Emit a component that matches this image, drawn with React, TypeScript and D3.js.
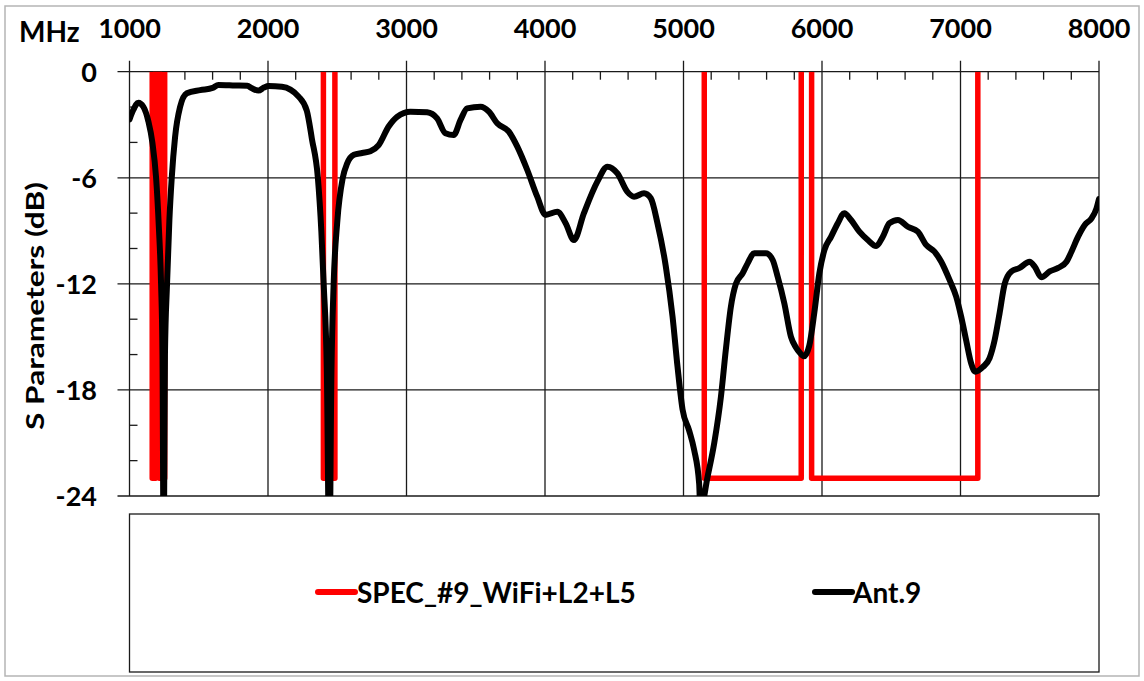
import React from 'react';
import * as d3 from 'd3';

// Ant.9 measured S11 (MHz, dB)
const antFreq = [
  1000, 1027, 1064, 1100, 1136, 1165, 1192, 1212, 1228, 1238, 1247, 1256, 1271, 1288, 1305, 1329, 1365, 1414,
  1510, 1600, 1642, 1763, 1850, 1884, 1931, 1970, 2004, 2100, 2221, 2280, 2317, 2360, 2385, 2402, 2425, 2443,
  2458, 2474, 2500, 2540, 2571, 2620, 2680, 2739, 2799, 2871, 2932, 3028, 3149, 3221, 3281, 3341, 3390, 3438,
  3535, 3595, 3655, 3739, 3800, 3872, 3944, 4004, 4089, 4149, 4209, 4281, 4378, 4451, 4523, 4595, 4643, 4715,
  4764, 4812, 4872, 4921, 4957, 4993, 5041, 5077, 5113, 5122, 5174, 5222, 5270, 5306, 5342, 5378, 5427, 5463,
  5511, 5595, 5644, 5680, 5728, 5776, 5812, 5840, 5870, 5908, 5945, 5981, 6017, 6066, 6114, 6161, 6210, 6270,
  6331, 6391, 6439, 6487, 6548, 6620, 6692, 6752, 6812, 6861, 6921, 6969, 7005, 7041, 7077, 7106, 7162, 7210,
  7246, 7282, 7319, 7367, 7427, 7499, 7536, 7584, 7644, 7705, 7765, 7801, 7849, 7897, 7946, 7982, 8000,
];
const antDb = [
  -2.7, -2.17, -1.75, -1.98, -2.8, -4.0, -6.0, -8.8, -12, -16, -28, -16, -12, -8.4, -6.0, -3.7, -2.0, -1.22,
  -1.04, -0.92, -0.75, -0.78, -0.8, -0.94, -1.07, -0.9, -0.81, -0.85, -1.41, -2.2, -3.8, -6.0, -9, -12, -17, -28,
  -17, -12, -8.5, -6.0, -5.2, -4.7, -4.6, -4.5, -4.15, -3.1, -2.55, -2.26, -2.3, -2.64, -3.48, -3.58, -2.73, -2.07,
  -1.98, -2.26, -2.92, -3.39, -4.24, -5.56, -7.07, -8.1, -7.92, -8.57, -9.52, -8.0, -6.22, -5.37, -5.75, -6.8, -7.07, -6.88,
  -7.16, -8.57, -11.0, -13.86, -16.7, -19.1, -20.3, -21.4, -23.3, -24.8, -22.9, -21.0, -18.4, -15.7, -13.3, -12.0, -11.4, -10.84,
  -10.27, -10.27, -10.65, -11.6, -13.1, -15.0, -15.6, -15.9, -16.1, -15.5, -13.6, -11.4, -10.1, -9.33, -8.57, -8.0, -8.39, -9.05,
  -9.52, -9.86, -9.33, -8.57, -8.39, -8.77, -9.05, -9.8, -10.18, -10.75, -11.78, -12.73, -13.86, -15.2, -16.5, -16.97, -16.7, -16.2,
  -15.2, -13.67, -12.0, -11.3, -11.1, -10.75, -11.03, -11.63, -11.3, -11.1, -10.75, -10.18, -9.33, -8.67, -8.29, -7.73, -7.2,
];

// SPEC_#9 mask (null = break in the line)
const specFreq = [
  1164, 1164, 1189, 1189, 1215, 1215, 1254, 1254, null,
  2400, 2400, 2483, 2483, null,
  5150, 5150, 5850, 5850, null,
  5925, 5925, 7125, 7125,
];
const specDb = [
  0, -23, -23, 0, 0, -23, -23, 0, null,
  0, -23, -23, 0, null,
  0, -23, -23, 0, null,
  0, -23, -23, 0,
];

const xTicks = [1000, 2000, 3000, 4000, 5000, 6000, 7000, 8000];
const yTicks = [0, -6, -12, -18, -24];
const legendNames = ['SPEC_#9_WiFi+L2+L5', 'Ant.9'];

const W = 1144;
const H = 681;
const FONT = "Lato, 'Open Sans', sans-serif";

const App: React.FC = () => {
  const x = d3.scaleLinear().domain([1000, 8000]).range([129.5, 1099]);
  const y = d3.scaleLinear().domain([-24, 0]).range([496, 71.7]);
  const [x0, x1] = x.range();
  const [yb, yt] = y.range();

  const ant = antFreq.map((f, i) => [f, antDb[i]] as [number, number]);
  const spec = specFreq.map((f, i) => [f, specDb[i]] as [number | null, number | null]);

  const antLine = d3.line<[number, number]>()
    .x(d => x(d[0]))
    .y(d => y(d[1]))
    .curve(d3.curveMonotoneX);
  const specLine = d3.line<[number | null, number | null]>()
    .defined(d => d[0] !== null)
    .x(d => x(d[0] as number))
    .y(d => y(d[1] as number));

  const minorX = d3.range(1200, 8000, 200).filter(v => v % 1000 !== 0);
  const minorY = d3.range(-22, 0, 2).filter(v => v % 6 !== 0);

  return (
    <div style={{ position: 'absolute', left: 0, top: 0 }}>
      <svg width={W} height={H} style={{ display: 'block', background: '#fff' }} fontFamily={FONT}>
        <defs>
          <clipPath id="plotClip">
            <rect x={x0} y={yt} width={x1 - x0} height={yb - yt} />
          </clipPath>
        </defs>
        <rect x={5} y={6} width={1134} height={670} fill="none" stroke="#b5b5b5" strokeWidth={1.5} />

        {/* grid */}
        {xTicks.map(t => (
          <line key={'gx' + t} x1={x(t)} x2={x(t)} y1={yt - 11} y2={yb} stroke="#1a1a1a" strokeWidth={1.3} />
        ))}
        {yTicks.map(t => (
          <line key={'gy' + t} x1={x0 - 12} x2={x1} y1={y(t)} y2={y(t)} stroke="#1a1a1a" strokeWidth={1.3} />
        ))}
        {minorX.map(t => (
          <line key={'mx' + t} x1={x(t)} x2={x(t)} y1={yt} y2={yt + 8} stroke="#1a1a1a" strokeWidth={1.3} />
        ))}
        {minorY.map(t => (
          <line key={'my' + t} x1={x0} x2={x0 + 8} y1={y(t)} y2={y(t)} stroke="#1a1a1a" strokeWidth={1.3} />
        ))}

        {/* series */}
        <g clipPath="url(#plotClip)">
          <path d={specLine(spec) ?? ''} fill="none" stroke="#ff0000" strokeWidth={5.5} strokeLinejoin="round" />
          <path d={antLine(ant) ?? ''} fill="none" stroke="#000" strokeWidth={6} strokeLinejoin="round" strokeLinecap="round" />
        </g>

        {/* axis labels */}
        <text x={19} y={42} fontSize={28} fontWeight={700}>MHz</text>
        {xTicks.map(t => (
          <text key={'lx' + t} x={x(t)} y={37.5} fontSize={27} fontWeight={700} textAnchor="middle">{t}</text>
        ))}
        {yTicks.map(t => (
          <text key={'ly' + t} x={97} y={y(t) + 10} fontSize={27} fontWeight={700} textAnchor="end">{t}</text>
        ))}
        <text transform="translate(44,306) rotate(-90)" fontSize={25} fontWeight={700} textAnchor="middle"
          textLength={248} lengthAdjust="spacingAndGlyphs">
          S Parameters (dB)
        </text>

        {/* legend */}
        <rect x={129.5} y={514} width={x1 - x0} height={158} fill="none" stroke="#1a1a1a" strokeWidth={1.3} />
        <line x1={318} x2={355} y1={592} y2={592} stroke="#ff0000" strokeWidth={6} strokeLinecap="round" />
        <text x={357} y={603} fontSize={28} fontWeight={700}>{legendNames[0]}</text>
        <line x1={815} x2={852} y1={592} y2={592} stroke="#000" strokeWidth={6} strokeLinecap="round" />
        <text x={853} y={603} fontSize={28} fontWeight={700}>{legendNames[1]}</text>
      </svg>
    </div>
  );
};

export default App;
